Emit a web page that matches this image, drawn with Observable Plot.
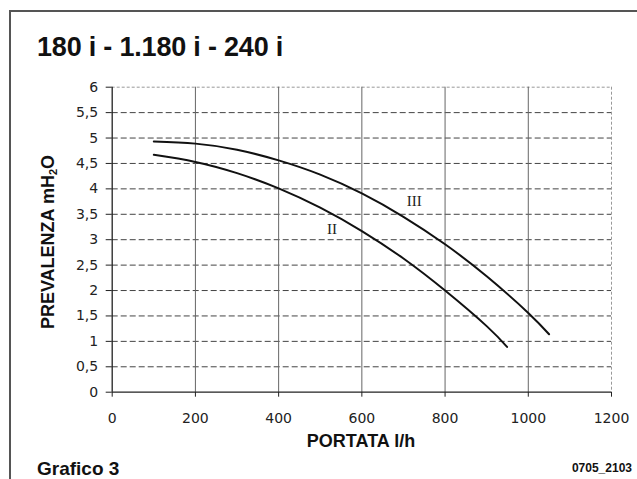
<!DOCTYPE html>
<html><head><meta charset="utf-8">
<script src="https://cdn.jsdelivr.net/npm/d3@7"></script>
<script src="https://cdn.jsdelivr.net/npm/@observablehq/plot@0.6"></script>
<style>
body{margin:0;background:#fff;}
#page{position:relative;width:637px;height:479px;overflow:hidden;font-family:"Liberation Sans",Arial,sans-serif;background:#fff;}
#frame{position:absolute;left:9px;top:10px;width:700px;height:600px;border-left:2px solid #555;border-top:2px solid #555;}
#chart{position:absolute;left:0;top:0;}
.t{position:absolute;font-weight:bold;color:#111;white-space:nowrap;line-height:normal;}
#title{left:37px;top:32px;font-size:27px;letter-spacing:-0.2px;}
#xlab{left:361px;top:431px;font-size:18px;transform:translateX(-50%);}
#ylab{left:48px;top:242px;font-size:18px;transform:translate(-50%,-50%) rotate(-90deg);}
#ylab sub{font-size:11px;vertical-align:-3px;}
#grafico{left:37px;top:458px;font-size:19px;}
#code{right:5px;top:461px;font-size:12px;}
</style></head>
<body>
<div id="page">
  <div id="frame"></div>
  <div id="chart"></div>
  <div class="t" id="title">180 i - 1.180 i - 240 i</div>
  <div class="t" id="xlab">PORTATA l/h</div>
  <div class="t" id="ylab">PREVALENZA mH<sub>2</sub>O</div>
  <div class="t" id="grafico">Grafico 3</div>
  <div class="t" id="code">0705_2103</div>
</div>
<script>
const xTicks = [0, 200, 400, 600, 800, 1000, 1200];
const yTicks = [0, 0.5, 1, 1.5, 2, 2.5, 3, 3.5, 4, 4.5, 5, 5.5, 6];

const portataII = [100, 200, 300, 400, 500, 600, 700, 800, 900, 949];
const prevalenzaII = [4.67, 4.53, 4.31, 4.01, 3.63, 3.17, 2.63, 2.00, 1.30, 0.89];

const portataIII = [100, 200, 300, 400, 500, 600, 700, 800, 900, 1000, 1050];
const prevalenzaIII = [4.93, 4.89, 4.77, 4.56, 4.28, 3.91, 3.45, 2.91, 2.28, 1.56, 1.14];

const curveLabels = ["II", "III"];
const labelX = [528, 726];
const labelY = [3.2, 3.76];

const II = portataII.map((x, i) => ({x, y: prevalenzaII[i]}));
const III = portataIII.map((x, i) => ({x, y: prevalenzaIII[i]}));
const labels = curveLabels.map((t, i) => ({t, x: labelX[i], y: labelY[i]}));

const fmt = v => String(v).replace(".", ",");
const innerY = yTicks.filter(d => d > 0 && d < 6);
const innerX = xTicks.filter(d => d > 0 && d < 1200);

const chart = Plot.plot({
  width: 637,
  height: 479,
  marginLeft: 111.7,
  marginRight: 26,
  marginTop: 86.7,
  marginBottom: 87.3,
  style: {background: "transparent", fontFamily: "'DejaVu Sans', Verdana, sans-serif", fontSize: "14px", color: "#222"},
  x: {domain: [0, 1200], ticks: xTicks},
  y: {domain: [0, 6], ticks: yTicks},
  marks: [
    Plot.ruleY(innerY, {stroke: "#444", strokeWidth: 1, strokeDasharray: "6,3"}),
    Plot.ruleY([6], {stroke: "#999", strokeWidth: 1, strokeDasharray: "3,2"}),
    Plot.ruleX(innerX, {stroke: "#666", strokeWidth: 1}),
    Plot.ruleX([1200], {stroke: "#999", strokeWidth: 1, strokeDasharray: "3,2"}),
    Plot.axisX({ticks: xTicks, tickSize: 5, tickPadding: 16, label: null, stroke: "#222", tickFormat: d => String(d)}),
    Plot.axisY({ticks: yTicks, tickSize: 6, tickPadding: 8, label: null, stroke: "#222", tickFormat: fmt}),
    Plot.ruleX([0], {stroke: "#222", strokeWidth: 1.3}),
    Plot.ruleY([0], {stroke: "#222", strokeWidth: 1.3}),
    Plot.line(II, {x: "x", y: "y", curve: "natural", stroke: "#111", strokeWidth: 2}),
    Plot.line(III, {x: "x", y: "y", curve: "natural", stroke: "#111", strokeWidth: 2}),
    Plot.text(labels, {x: "x", y: "y", text: "t", fontFamily: "'Liberation Serif', 'DejaVu Serif', serif", fontSize: 15, fill: "#222"})
  ]
});
document.getElementById("chart").appendChild(chart);
</script>
</body></html>
